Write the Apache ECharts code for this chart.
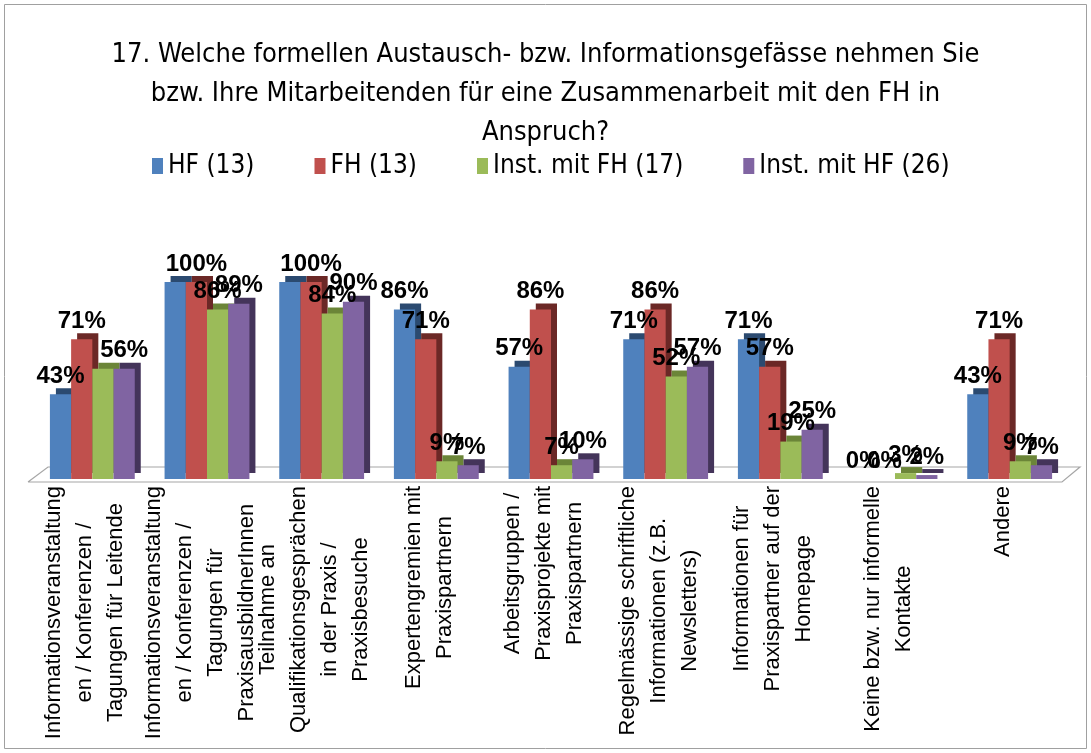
<!DOCTYPE html>
<html>
<head>
<meta charset="utf-8">
<script src="https://cdn.jsdelivr.net/npm/echarts@6/dist/echarts.min.js"></script>
<style>
  html, body { margin: 0; padding: 0; background: #fff; }
  #chart { width: 1091px; height: 753px; }
</style>
</head>
<body>
<div id="chart"></div>
<script>
// Kategorien (Zeilen der Achsenbeschriftung)
const categories = [
  ['Informationsveranstaltung', 'en / Konferenzen /', 'Tagungen für Leitende'],
  ['Informationsveranstaltung', 'en / Konferenzen /', 'Tagungen für', 'PraxisausbildnerInnen'],
  ['Teilnahme an', 'Qualifikationsgesprächen', 'in der Praxis /', 'Praxisbesuche'],
  ['Expertengremien mit', 'Praxispartnern'],
  ['Arbeitsgruppen /', 'Praxisprojekte mit', 'Praxispartnern'],
  ['Regelmässige schriftliche', 'Informationen (z.B.', 'Newsletters)'],
  ['Informationen für', 'Praxispartner auf der', 'Homepage'],
  ['Keine bzw. nur informelle', 'Kontakte'],
  ['Andere'],
];

const seriesNames = ['HF (13)', 'FH (13)', 'Inst. mit FH (17)', 'Inst. mit HF (26)'];

// Werte in %
const hf = [43, 100, 100, 86, 57, 71, 71, 0, 43];
const fh = [71, 100, 100, 71, 86, 86, 57, 0, 71];
const instFh = [56, 86, 84, 9, 7, 52, 19, 3, 9];
const instHf = [56, 89, 90, 7, 10, 57, 25, 2, 7];

// Labels, die im Original verdeckt sind: [Serie, Kategorie]
const hiddenLabels = [[2, 0], [0, 1], [0, 2]];

const faceColors = ['#4F81BD', '#C0504D', '#9BBB59', '#8064A2'];
const sideColors = ['#2B4A70', '#6B2826', '#6B8538', '#44345A'];

const chart = echarts.init(document.getElementById('chart'));

function isHidden(s, c) {
  return hiddenLabels.some(function (h) { return h[0] === s && h[1] === c; });
}

function makeSeries(idx, values) {
  return {
    name: seriesNames[idx],
    type: 'bar',
    barGap: 0,
    barCategoryGap: '26%',
    data: values.map(function (v, i) {
      if (isHidden(idx, i)) return { value: v, label: { show: false } };
      return v;
    }),
    itemStyle: {
      color: faceColors[idx],
      // Schatten als einfache 3D-Seitenfläche
      shadowColor: sideColors[idx],
      shadowBlur: 0,
      shadowOffsetX: 6,
      shadowOffsetY: -6,
    },
    label: {
      show: true,
      position: 'top',
      distance: 6,
      formatter: '{c}%',
      color: '#000',
      fontFamily: 'Liberation Sans',
      fontWeight: 'bold',
      fontSize: 24,
    },
  };
}

const condensed = 'DejaVu Sans Condensed, sans-serif';

const option = {
  animation: false,
  backgroundColor: '#fff',
  title: {
    text: '17. Welche formellen Austausch- bzw. Informationsgefässe nehmen Sie\nbzw. Ihre Mitarbeitenden für eine Zusammenarbeit mit den FH in\nAnspruch?',
    left: 'center',
    top: 30,
    textStyle: {
      fontFamily: condensed,
      fontWeight: 'normal',
      fontSize: 27,
      lineHeight: 39,
      color: '#000',
    },
  },
  legend: {
    top: 148,
    left: 147,
    itemWidth: 11,
    itemHeight: 16,
    itemGap: 60,
    icon: 'rect',
    textStyle: {
      fontFamily: condensed,
      fontSize: 26,
      color: '#000',
    },
    data: seriesNames,
  },
  grid: {
    left: 35,
    right: 24,
    top: 282,
    bottom: 274,
  },
  xAxis: {
    type: 'category',
    data: categories.map(function (c) { return c.join('\n'); }),
    axisLine: { show: false },
    axisTick: { show: false },
    axisLabel: {
      interval: 0,
      rotate: 90,
      margin: 7,
      padding: [0, 0, 14, 0],
      formatter: function (val) {
        return val.split('\n').map(function (l) { return '{c|' + l + '}'; }).join('\n');
      },
      rich: {
        c: {
          align: 'center',
          fontFamily: 'Liberation Sans',
          fontSize: 22,
          lineHeight: 31,
          color: '#000',
        },
      },
    },
  },
  yAxis: {
    type: 'value',
    min: 0,
    max: 100,
    show: false,
  },
  series: [
    makeSeries(0, hf),
    makeSeries(1, fh),
    makeSeries(2, instFh),
    makeSeries(3, instHf),
  ],
  graphic: [
    {
      // Rahmen des Diagramms
      type: 'rect',
      shape: { x: 4.5, y: 4.5, width: 1082, height: 744 },
      style: { fill: 'none', stroke: '#a0a0a0', lineWidth: 1 },
      silent: true,
    },
    {
      // Boden (3D)
      type: 'polyline',
      shape: { points: [[28, 482], [48, 467], [1080, 467], [1062, 482], [28, 482]] },
      style: { fill: 'none', stroke: '#a6a6a6', lineWidth: 1.2 },
      z: -1,
      silent: true,
    },
  ],
};

chart.setOption(option);
</script>
</body>
</html>
